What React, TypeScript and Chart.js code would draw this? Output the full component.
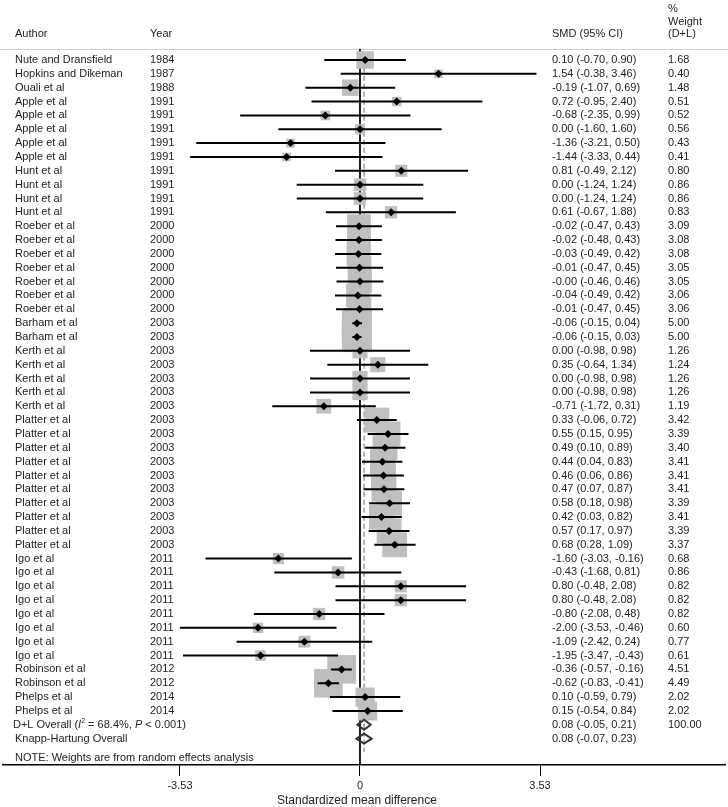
import React, { useEffect, useRef } from "react";
import { Chart, registerables } from "chart.js";

Chart.register(...registerables);

const authors = [
  "Nute and Dransfield", "Hopkins and Dikeman", "Ouali et al",
  "Apple et al", "Apple et al", "Apple et al", "Apple et al", "Apple et al",
  "Hunt et al", "Hunt et al", "Hunt et al", "Hunt et al",
  "Roeber et al", "Roeber et al", "Roeber et al", "Roeber et al", "Roeber et al", "Roeber et al", "Roeber et al",
  "Barham et al", "Barham et al",
  "Kerth et al", "Kerth et al", "Kerth et al", "Kerth et al", "Kerth et al",
  "Platter et al", "Platter et al", "Platter et al", "Platter et al", "Platter et al",
  "Platter et al", "Platter et al", "Platter et al", "Platter et al", "Platter et al",
  "Igo et al", "Igo et al", "Igo et al", "Igo et al", "Igo et al", "Igo et al", "Igo et al", "Igo et al",
  "Robinson et al", "Robinson et al", "Phelps et al", "Phelps et al",
];
const years = [
  1984, 1987, 1988,
  1991, 1991, 1991, 1991, 1991,
  1991, 1991, 1991, 1991,
  2000, 2000, 2000, 2000, 2000, 2000, 2000,
  2003, 2003,
  2003, 2003, 2003, 2003, 2003,
  2003, 2003, 2003, 2003, 2003, 2003, 2003, 2003, 2003, 2003,
  2011, 2011, 2011, 2011, 2011, 2011, 2011, 2011,
  2012, 2012, 2014, 2014,
];
const smd = [
  0.10, 1.54, -0.19,
  0.72, -0.68, 0.00, -1.36, -1.44,
  0.81, 0.00, 0.00, 0.61,
  -0.02, -0.02, -0.03, -0.01, -0.00, -0.04, -0.01,
  -0.06, -0.06,
  0.00, 0.35, 0.00, 0.00, -0.71,
  0.33, 0.55, 0.49, 0.44, 0.46, 0.47, 0.58, 0.42, 0.57, 0.68,
  -1.60, -0.43, 0.80, 0.80, -0.80, -2.00, -1.09, -1.95,
  -0.36, -0.62, 0.10, 0.15,
];
const ciLow = [
  -0.70, -0.38, -1.07,
  -0.95, -2.35, -1.60, -3.21, -3.33,
  -0.49, -1.24, -1.24, -0.67,
  -0.47, -0.48, -0.49, -0.47, -0.46, -0.49, -0.47,
  -0.15, -0.15,
  -0.98, -0.64, -0.98, -0.98, -1.72,
  -0.06, 0.15, 0.10, 0.04, 0.06, 0.07, 0.18, 0.03, 0.17, 0.28,
  -3.03, -1.68, -0.48, -0.48, -2.08, -3.53, -2.42, -3.47,
  -0.57, -0.83, -0.59, -0.54,
];
const ciHigh = [
  0.90, 3.46, 0.69,
  2.40, 0.99, 1.60, 0.50, 0.44,
  2.12, 1.24, 1.24, 1.88,
  0.43, 0.43, 0.42, 0.45, 0.46, 0.42, 0.45,
  0.04, 0.03,
  0.98, 1.34, 0.98, 0.98, 0.31,
  0.72, 0.95, 0.89, 0.83, 0.86, 0.87, 0.98, 0.82, 0.97, 1.09,
  -0.16, 0.81, 2.08, 2.08, 0.48, -0.46, 0.24, -0.43,
  -0.16, -0.41, 0.79, 0.84,
];
const weights = [
  1.68, 0.40, 1.48,
  0.51, 0.52, 0.56, 0.43, 0.41,
  0.80, 0.86, 0.86, 0.83,
  3.09, 3.08, 3.08, 3.05, 3.05, 3.06, 3.06,
  5.00, 5.00,
  1.26, 1.24, 1.26, 1.26, 1.19,
  3.42, 3.39, 3.40, 3.41, 3.41, 3.41, 3.39, 3.41, 3.39, 3.37,
  0.68, 0.86, 0.82, 0.82, 0.82, 0.60, 0.77, 0.61,
  4.51, 4.49, 2.02, 2.02,
];

const pooledLabels = ["D+L Overall", "Knapp-Hartung Overall"];
const pooledSmd = [0.08, 0.08];
const pooledLow = [-0.05, -0.07];
const pooledHigh = [0.21, 0.23];
const pooledWeights = ["100.00", ""];
const i2Text = "68.4%";
const pText = "0.001";
const xTicks = [-3.53, 0, 3.53];

const FONT = '"Liberation Sans", Arial, Helvetica, sans-serif';
const TEXT = "#222";

const fmt = (v: number) => (Object.is(v, -0) ? "-0.00" : v.toFixed(2));

export default function App() {
  const ref = useRef<HTMLCanvasElement | null>(null);

  useEffect(() => {
    document.body.style.margin = "0";
    const canvas = ref.current;
    if (!canvas) return;
    const n = smd.length;

    const boxes = smd.map((v, i) => ({ x: v, y: i }));
    const boxRadius = weights.map((w) => (13.5 * Math.sqrt(w)) / Math.SQRT2);

    const ciData: any[] = [];
    smd.forEach((_, i) => {
      ciData.push({ x: ciLow[i], y: i }, { x: ciHigh[i], y: i }, { x: NaN, y: NaN });
    });

    const overallData: any[] = [];
    pooledSmd.forEach((v, k) => {
      const r = n + k;
      overallData.push(
        { x: pooledLow[k], y: r },
        { x: v, y: r - 0.36 },
        { x: pooledHigh[k], y: r },
        { x: v, y: r + 0.36 },
        { x: pooledLow[k], y: r },
        { x: v, y: r - 0.36 },
        { x: NaN, y: NaN }
      );
    });

    const textPlugin = {
      id: "forestText",
      beforeDatasetsDraw(chart: any) {
        const ctx = chart.ctx;
        const ys = chart.scales.y;
        const y = Math.round(ys.getPixelForValue(-0.83)) + 0.5;
        ctx.save();
        ctx.strokeStyle = "#cfcfcf";
        ctx.lineWidth = 1;
        ctx.beginPath();
        ctx.moveTo(0, y);
        ctx.lineTo(chart.width, y);
        ctx.stroke();
        ctx.restore();
      },
      afterDraw(chart: any) {
        const ctx = chart.ctx;
        const ys = chart.scales.y;
        const xs = chart.scales.x;
        ctx.save();
        ctx.fillStyle = TEXT;
        ctx.textBaseline = "middle";
        ctx.textAlign = "left";
        const normal = `11px ${FONT}`;
        const italic = `italic 11px ${FONT}`;
        ctx.font = normal;

        const xAuthor = 15, xYear = 150, xSmd = 552, xW = 668;
        // header
        const hy = ys.getPixelForValue(-1.88);
        ctx.fillText("Author", xAuthor, hy);
        ctx.fillText("Year", xYear, hy);
        ctx.fillText("SMD (95% CI)", xSmd, hy);
        ctx.fillText("%", xW, ys.getPixelForValue(-3.68));
        ctx.fillText("Weight", xW, ys.getPixelForValue(-2.77));
        ctx.fillText("(D+L)", xW, hy);

        for (let i = 0; i < n; i++) {
          const y = ys.getPixelForValue(i);
          ctx.fillText(authors[i], xAuthor, y);
          ctx.fillText(String(years[i]), xYear, y);
          ctx.fillText(`${fmt(smd[i])} (${fmt(ciLow[i])}, ${fmt(ciHigh[i])})`, xSmd, y);
          ctx.fillText(weights[i].toFixed(2), xW, y);
        }

        // pooled rows
        for (let k = 0; k < pooledSmd.length; k++) {
          const y = ys.getPixelForValue(n + k);
          if (k === 0) {
            const parts: [string, string, number][] = [
              [pooledLabels[0] + " (", normal, 0],
              ["I", italic, 0],
              ["2", `7px ${FONT}`, -4],
              [" = " + i2Text + ", ", normal, 0],
              ["P", italic, 0],
              [" < " + pText + ")", normal, 0],
            ];
            let cx = 13;
            for (const [t, f, dy] of parts) {
              ctx.font = f;
              ctx.fillText(t, cx, y + dy);
              cx += ctx.measureText(t).width;
            }
            ctx.font = normal;
          } else {
            ctx.fillText(pooledLabels[k], xAuthor, y);
          }
          ctx.fillText(`${fmt(pooledSmd[k])} (${fmt(pooledLow[k])}, ${fmt(pooledHigh[k])})`, xSmd, y);
          if (pooledWeights[k]) ctx.fillText(pooledWeights[k], xW, y);
        }

        ctx.fillText("NOTE: Weights are from random effects analysis", xAuthor, ys.getPixelForValue(50.4));

        // axis title
        ctx.font = `12px ${FONT}`;
        ctx.textAlign = "center";
        ctx.fillText("Standardized mean difference", xs.getPixelForValue(-0.06), 801);
        ctx.restore();
      },
    };

    const chart = new Chart(canvas, {
      type: "scatter",
      data: {
        datasets: [
          {
            data: [{ x: 0, y: -0.8 }, { x: 0, y: 50.9 }],
            showLine: true,
            borderColor: "#000",
            borderWidth: 1,
            pointRadius: 0,
            order: 6,
          } as any,
          {
            data: [{ x: pooledSmd[0], y: -0.6 }, { x: pooledSmd[0], y: 49.96 }],
            showLine: true,
            borderColor: "#666",
            borderWidth: 1,
            borderDash: [5, 3],
            pointRadius: 0,
            order: 5,
          },
          {
            data: boxes,
            pointStyle: "rect",
            pointRadius: boxRadius,
            backgroundColor: "#bfbfbf",
            borderWidth: 0,
            order: 4,
          },
          {
            data: ciData,
            showLine: true,
            spanGaps: false,
            borderColor: "#000",
            borderWidth: 2,
            pointRadius: 0,
            order: 3,
          },
          {
            data: boxes,
            pointStyle: "rectRot",
            pointRadius: 4,
            backgroundColor: "#000",
            borderWidth: 0,
            order: 2,
          },
          {
            data: overallData,
            showLine: true,
            spanGaps: false,
            borderColor: "#333",
            borderWidth: 2,
            borderJoinStyle: "miter",
            pointRadius: 0,
            order: 1,
          },
        ] as any,
      },
      options: {
        animation: false,
        responsive: false,
        events: [],
        layout: { autoPadding: false, padding: { left: 3, right: 3, top: 0, bottom: 11.8 } },
        plugins: { legend: { display: false }, tooltip: { enabled: false } },
        scales: {
          x: {
            type: "linear",
            min: -7.0,
            max: 7.157,
            position: "bottom",
            afterBuildTicks: (s: any) => {
              s.ticks = xTicks.map((v) => ({ value: v }));
            },
            ticks: {
              callback: (v: any) => (Number(v) === 0 ? "0" : Number(v).toFixed(2)),
              font: { size: 11, family: FONT },
              color: TEXT,
              padding: 3,
              maxRotation: 0,
              autoSkip: false,
            },
            grid: {
              display: true,
              drawOnChartArea: false,
              drawTicks: true,
              tickLength: 11,
              color: "#000",
              lineWidth: 1,
            },
            border: { display: true, color: "#000", width: 1.5 },
          },
          y: {
            type: "linear",
            display: false,
            reverse: true,
            min: -4.332,
            max: 50.903,
          },
        },
      } as any,
      plugins: [textPlugin],
    });

    return () => chart.destroy();
  }, []);

  return <canvas ref={ref} width={728} height={807} style={{ display: "block" }} />;
}
